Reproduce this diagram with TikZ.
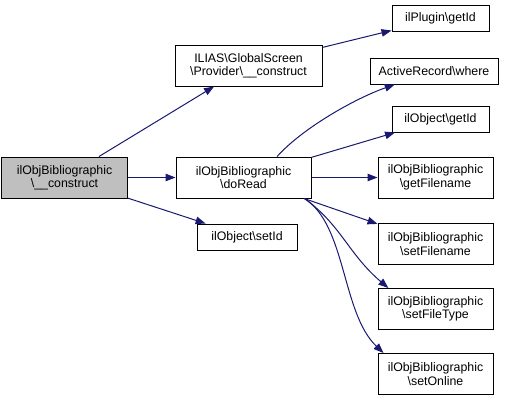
\documentclass[tikz,border=0pt]{standalone}
\usepackage{fontspec}
\setmainfont{Liberation Sans}
\usetikzlibrary{arrows.meta}
\definecolor{edgeblue}{HTML}{191970}
\definecolor{rootgray}{HTML}{BFBFBF}

\begin{document}
\begin{tikzpicture}[x=1bp, y=-1bp,
        fn/.style={draw, line width=1bp, inner sep=0pt, align=center,
            font=\fontsize{12.4}{13.5}\selectfont, minimum height=26bp},
        fntwo/.style={fn, minimum height=41bp},
        call/.style={draw=edgeblue, line width=1bp, -{Triangle[length=10bp,width=7.5bp]}}]
        \useasboundingbox (0,0) rectangle (516,401);

        \node[fntwo, fill=rootgray, minimum width=125bp] (construct) at (64.5,177.5) {ilObjBibliographic\\\textbackslash\_\_construct};
        \node[fntwo, minimum width=147bp] (provider) at (248.5,65.5) {ILIAS\textbackslash GlobalScreen\\\textbackslash Provider\textbackslash\_\_construct};
        \node[fntwo, minimum width=135bp] (doread) at (243.5,177.5) {ilObjBibliographic\\\textbackslash doRead};
        \node[fn, minimum width=100bp] (setid) at (247,237) {ilObject\textbackslash setId};

        \node[fn, minimum width=97bp] (plugin) at (440.5,18.5) {ilPlugin\textbackslash getId};
        \node[fn, minimum width=128bp] (where) at (434,71) {ActiveRecord\textbackslash where};
        \node[fn, minimum width=97bp] (getid) at (440.5,119) {ilObject\textbackslash getId};
        \node[fntwo, minimum width=115bp] (getfn) at (435.5,177.5) {ilObjBibliographic\\\textbackslash getFilename};
        \node[fntwo, minimum width=115bp] (setfn) at (435.5,244) {ilObjBibliographic\\\textbackslash setFilename};
        \node[fntwo, minimum width=115bp] (setft) at (435.5,309) {ilObjBibliographic\\\textbackslash setFileType};
        \node[fntwo, minimum width=115bp] (setonl) at (435.5,374) {ilObjBibliographic\\\textbackslash setOnline};

        \draw[call] (construct) -- (provider);
        \draw[call] (construct) -- (doread);
        \draw[call] (construct) -- (setid);
        \draw[call] (provider) -- (plugin);

        \draw[call] (doread.32) .. controls +(25,-28) and +(-40,14) .. (where.199);
        \draw[call] (doread) -- (getid);
        \draw[call] (doread) -- (getfn);
        \draw[call] (doread) -- (setfn);
        \draw[call] (doread.-19) .. controls +(37,27) and +(-40,-34) .. (setft.156);
        \draw[call] (doread.-19) .. controls +(42,27) and +(-42,-40) .. (setonl.158);
    \end{tikzpicture}
\end{document}
